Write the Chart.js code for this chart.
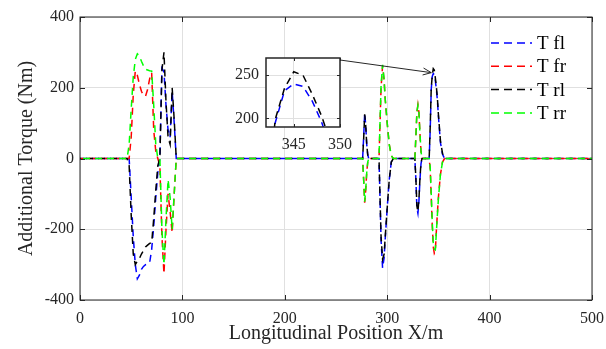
<!DOCTYPE html>
<html>
<head>
<meta charset="utf-8">
<script src="https://cdn.jsdelivr.net/npm/chart.js@4.4.0/dist/chart.umd.min.js"></script>
<style>
    body { margin: 0; background: #ffffff; }
    #wrap { position: relative; width: 606px; height: 349px; }
    #main_chart { position: absolute; left: 0; top: 0; }
    #inset_chart { position: absolute; left: 222px; top: 52px; }
</style>
</head>
<body>
<div id="wrap">
    <canvas id="main_chart" width="606" height="349"></canvas>
    <canvas id="inset_chart" width="140" height="104"></canvas>
</div>
<script>
//Longitudinal positions (m) shared by all four wheels
const positions = [0, 46, 48, 50, 52, 54, 56, 58, 60, 62, 64, 66, 68, 70, 72, 74, 76, 78, 80, 82, 84, 86, 88, 90, 92, 94, 96,
    276, 277, 278, 279, 280, 281, 282,
    292, 294, 295.5, 297, 298, 300, 302, 304, 306,
    327, 328, 329, 330, 331, 332, 333, 334,
    341, 342, 343, 344, 345, 346, 347, 348, 349, 350, 352, 354, 356, 500];

//Additional torque (Nm) per wheel
const torqueFl = [0, 0, 0, -110, -220, -300, -340, -330, -313, -305, -300, -298, -295, -257, -190, -110, -40, 0, 255, 245, 150, 80, 60, 190, 100, 0, 0,
    0, 60, 129, 95, 40, 10, 0,
    0, -230, -310, -280, -230, -140, -60, -10, 0,
    0, -60, -140, -155, -120, -60, -15, 0,
    0, 80, 195, 232, 240, 237, 220, 196, 165, 120, 45, 12, 0, 0];
const torqueFr = [0, 0, 0, 60, 180, 247, 235, 210, 190, 178, 176, 195, 225, 242, 80, 20, 0, -20, -220, -326, -200, -100, -150, -210, -100, 0, 0,
    0, -60, -125, -90, -40, -10, 0,
    0, 200, 262, 220, 170, 100, 40, 8, 0,
    0, 60, 130, 152, 130, 70, 20, 0,
    0, -30, -110, -190, -250, -268, -262, -205, -155, -110, -45, -10, 0, 0];
const torqueRl = [0, 0, -20, -160, -270, -300, -290, -283, -270, -260, -250, -245, -240, -238, -170, -90, -20, 0, 250, 300, 160, 60, 40, 200, 110, 0, 0,
    0, 55, 125, 95, 40, 10, 0,
    0, -220, -285, -270, -225, -140, -60, -10, 0,
    0, -55, -135, -150, -115, -55, -12, 0,
    0, 90, 199, 235, 254, 250, 228, 203, 172, 125, 50, 15, 0, 0];
const torqueRr = [0, 0, 40, 140, 230, 280, 296, 290, 275, 262, 252, 250, 248, 247, 150, 40, 0, 0, -200, -300, -170, -60, -110, -200, -100, 0, 0,
    0, -60, -122, -90, -40, -10, 0,
    0, 205, 265, 222, 170, 100, 40, 8, 0,
    0, 62, 132, 150, 128, 70, 20, 0,
    0, -25, -100, -180, -240, -256, -258, -210, -160, -115, -45, -10, 0, 0];

const seriesNames = ['T fl', 'T fr', 'T rl', 'T rr'];
const seriesColors = ['#0000ff', '#ff0000', '#000000', '#00ff00'];

//Tick labels
const xTicks = [0, 100, 200, 300, 400, 500];
const yTicks = [-400, -200, 0, 200, 400];
const insetXTicks = [345, 350];
const insetYTicks = [200, 250];
//Point the arrow looks at
const arrowTarget = [345, 254];

Chart.defaults.font.family = "'Liberation Serif', 'Times New Roman', serif";
Chart.defaults.color = '#262626';

const axisColor = '#262626';
const gridColor = '#e0e0e0';

const buildDatasets = () => {
    /*
        Builds one dashed line per wheel, rr last so it is drawn on top
    */
    const allValues = [torqueFl, torqueFr, torqueRl, torqueRr];
    return allValues.map((vals, i) => ({
        label: seriesNames[i],
        data: positions.map((x, k) => ({x: x, y: vals[k]})),
        borderColor: seriesColors[i],
        backgroundColor: seriesColors[i],
        borderWidth: 1.5,
        borderDash: [7, 5],
        borderDashOffset: i * 3,
        pointRadius: 0,
        tension: 0,
        fill: false,
        order: 4 - i
    }));
}

//Fixes the size of an axis and drops the label overflow padding
const fixSize = (size) => (scale) => {
    if (scale.isHorizontal()) scale.height = size;
    else scale.width = size;
    scale.paddingLeft = 0;
    scale.paddingRight = 0;
    scale.paddingTop = 0;
    scale.paddingBottom = 0;
}

//Draws the box round the plot area and the inward ticks
const frameTicks = (tickLen, lineW) => ({
    id: 'frameTicks',
    afterDatasetsDraw: (chart) => {
        const {ctx, chartArea: a, scales} = chart;
        ctx.save();
        ctx.strokeStyle = axisColor;
        ctx.lineWidth = lineW;
        ctx.strokeRect(a.left, a.top, a.right - a.left, a.bottom - a.top);
        ctx.lineWidth = 1;
        ctx.beginPath();
        scales.x.ticks.forEach((t) => {
            const px = Math.round(scales.x.getPixelForValue(t.value)) + 0.5;
            ctx.moveTo(px, a.bottom); ctx.lineTo(px, a.bottom - tickLen);
            ctx.moveTo(px, a.top); ctx.lineTo(px, a.top + tickLen);
        });
        scales.y.ticks.forEach((t) => {
            const py = Math.round(scales.y.getPixelForValue(t.value)) + 0.5;
            ctx.moveTo(a.left, py); ctx.lineTo(a.left + tickLen, py);
            ctx.moveTo(a.right, py); ctx.lineTo(a.right - tickLen, py);
        });
        ctx.stroke();
        ctx.restore();
    }
});

//Legend drawn inside the top right of the plot, no box
const innerLegend = {
    id: 'innerLegend',
    afterDraw: (chart) => {
        const {ctx, chartArea: a} = chart;
        const x0 = a.right - 101;
        const y0 = a.top + 26;
        ctx.save();
        ctx.font = "19px 'Liberation Serif', serif";
        ctx.textBaseline = 'middle';
        seriesNames.forEach((name, i) => {
            const y = y0 + i * 23.3;
            ctx.strokeStyle = seriesColors[i];
            ctx.lineWidth = 1.5;
            ctx.setLineDash([8, 5]);
            ctx.beginPath();
            ctx.moveTo(x0, y); ctx.lineTo(x0 + 41, y);
            ctx.stroke();
            ctx.setLineDash([]);
            ctx.fillStyle = '#000000';
            ctx.fillText(name, x0 + 46, y + 1);
        });
        ctx.restore();
    }
};

//Arrow from the inset box to the zoomed peak
const insetBox = {left: 266, top: 58, right: 340, bottom: 127};
const zoomArrow = {
    id: 'zoomArrow',
    afterDraw: (chart) => {
        const {ctx, scales} = chart;
        const ex = scales.x.getPixelForValue(arrowTarget[0]) - 2;
        const ey = scales.y.getPixelForValue(arrowTarget[1]) + 4;
        const sx = insetBox.right;
        const sy = insetBox.top + 2;
        const ang = Math.atan2(ey - sy, ex - sx);
        ctx.save();
        ctx.strokeStyle = '#262626';
        ctx.lineWidth = 1;
        ctx.beginPath();
        ctx.moveTo(sx, sy); ctx.lineTo(ex, ey);
        ctx.moveTo(ex, ey); ctx.lineTo(ex - 9 * Math.cos(ang - 0.4), ey - 9 * Math.sin(ang - 0.4));
        ctx.moveTo(ex, ey); ctx.lineTo(ex - 9 * Math.cos(ang + 0.4), ey - 9 * Math.sin(ang + 0.4));
        ctx.stroke();
        ctx.restore();
    }
};

//White background only inside the inset plot area
const insetBackground = {
    id: 'insetBackground',
    beforeDraw: (chart) => {
        const {ctx, chartArea: a} = chart;
        ctx.save();
        ctx.fillStyle = '#ffffff';
        ctx.fillRect(a.left, a.top, a.right - a.left, a.bottom - a.top);
        ctx.restore();
    }
};

const mainChart = new Chart('main_chart', {
    type: 'line',
    data: {datasets: buildDatasets()},
    options: {
        responsive: false,
        animation: false,
        devicePixelRatio: 1,
        layout: {padding: {top: 17, right: 14, left: 0, bottom: 0}},
        plugins: {legend: {display: false}, tooltip: {enabled: false}},
        scales: {
            x: {
                type: 'linear',
                min: 0,
                max: 500,
                afterBuildTicks: (scale) => { scale.ticks = xTicks.map((v) => ({value: v})); },
                afterFit: fixSize(49),
                grid: {color: gridColor, drawTicks: false},
                border: {display: false},
                ticks: {font: {size: 16}, padding: 9, maxRotation: 0, color: axisColor},
                title: {display: true, text: 'Longitudinal Position X/m', font: {size: 20}, padding: {top: 0, bottom: 3}, color: axisColor}
            },
            y: {
                min: -400,
                max: 400,
                afterBuildTicks: (scale) => { scale.ticks = yTicks.map((v) => ({value: v})); },
                afterFit: fixSize(80),
                grid: {color: gridColor, drawTicks: false},
                border: {display: false},
                ticks: {font: {size: 16}, padding: 6, color: axisColor},
                title: {display: true, text: 'Additional Torque (Nm)', font: {size: 20}, padding: {top: 15, bottom: 0}, color: axisColor}
            }
        }
    },
    plugins: [frameTicks(5, 1), innerLegend, zoomArrow]
});

const insetChart = new Chart('inset_chart', {
    type: 'line',
    data: {datasets: buildDatasets()},
    options: {
        responsive: false,
        animation: false,
        devicePixelRatio: 1,
        layout: {padding: {top: 6, right: 22, left: 0, bottom: 0}},
        plugins: {legend: {display: false}, tooltip: {enabled: false}},
        scales: {
            x: {
                type: 'linear',
                min: 342,
                max: 350,
                afterBuildTicks: (scale) => { scale.ticks = insetXTicks.map((v) => ({value: v})); },
                afterFit: fixSize(29),
                grid: {color: gridColor, drawTicks: false},
                border: {display: false},
                ticks: {font: {size: 16}, padding: 8, maxRotation: 0, color: axisColor}
            },
            y: {
                min: 190,
                max: 270,
                afterBuildTicks: (scale) => { scale.ticks = insetYTicks.map((v) => ({value: v})); },
                afterFit: fixSize(44),
                grid: {color: gridColor, drawTicks: false},
                border: {display: false},
                ticks: {font: {size: 16}, padding: 7, color: axisColor}
            }
        }
    },
    plugins: [insetBackground, frameTicks(3, 1.5)]
});
</script>
</body>
</html>
